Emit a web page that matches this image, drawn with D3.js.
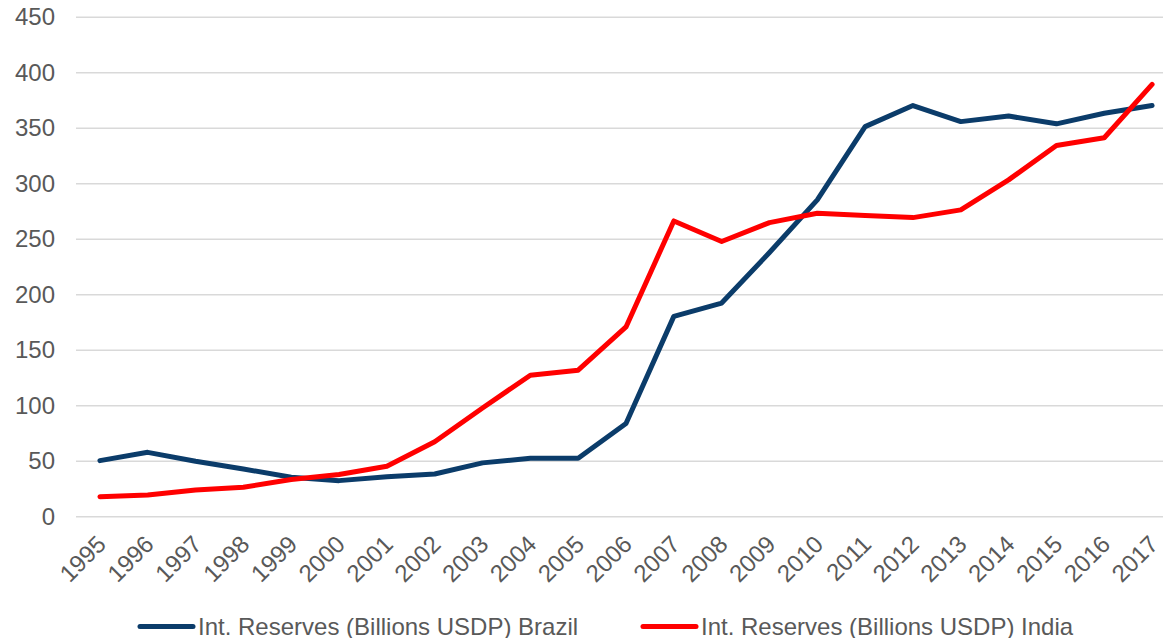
<!DOCTYPE html>
<html>
<head>
<meta charset="utf-8">
<title>Int. Reserves</title>
<script src="https://cdn.jsdelivr.net/npm/d3@7"></script>
<style>
  body { margin: 0; background: #fff; }
  svg { display: block; font-family: "Liberation Sans", Arial, sans-serif; }
</style>
</head>
<body>
<script>
// data
var years = ['1995','1996','1997','1998','1999','2000','2001','2002','2003','2004','2005','2006',
             '2007','2008','2009','2010','2011','2012','2013','2014','2015','2016','2017'];
var brazil = [50.5, 58, 50, 43, 35.5, 32.5, 36, 38.5, 48.5, 52.6, 52.6, 84,
              180.5, 192.5, 238, 285.5, 351.5, 370.5, 356, 361, 354, 363.5, 370.5];
var india = [18, 19.5, 24, 26.5, 33.5, 38, 45.5, 67.5, 98, 127.5, 132, 171,
             266.5, 248, 265, 273.5, 271.5, 269.5, 276.5, 303.5, 334.5, 341.5, 389.5];
var yTicks = [0, 50, 100, 150, 200, 250, 300, 350, 400, 450];
var seriesNames = ['Int. Reserves (Billions USDP) Brazil', 'Int. Reserves (Billions USDP) India'];
var colors = ['#0B3C6A', '#FF0000'];

var W = 1163, H = 638;
var plotLeft = 76, plotRight = 1176, plotTop = 17.3, plotBottom = 516.7;
var fontSize = '24px';

var svg = d3.select('body').append('svg')
    .attr('width', W).attr('height', H);

var x = d3.scalePoint().domain(years).range([plotLeft, plotRight]).padding(0.5);
var y = d3.scaleLinear().domain([0, 450]).range([plotBottom, plotTop]);

// grid lines
svg.append('g').selectAll('line')
    .data(yTicks).enter().append('line')
    .attr('x1', plotLeft).attr('x2', plotRight)
    .attr('y1', function(d) { return y(d); })
    .attr('y2', function(d) { return y(d); })
    .attr('stroke', '#D9D9D9').attr('stroke-width', 1.5);

// y axis labels
var yAxis = d3.axisLeft(y).tickValues(yTicks).tickSize(0).tickPadding(0);
var gy = svg.append('g').attr('transform', 'translate(55,0)').call(yAxis);
gy.select('.domain').remove();
gy.selectAll('text')
    .attr('font-size', fontSize).attr('fill', '#595959')
    .attr('font-family', '"Liberation Sans", Arial, sans-serif');

// x axis labels
var xAxis = d3.axisBottom(x).tickSize(0).tickPadding(0);
var gx = svg.append('g').attr('transform', 'translate(0,' + plotBottom + ')').call(xAxis);
gx.select('.domain').remove();
gx.selectAll('text')
    .attr('font-size', fontSize).attr('fill', '#595959')
    .attr('font-family', '"Liberation Sans", Arial, sans-serif')
    .attr('text-anchor', 'end')
    .attr('dy', 0)
    .attr('transform', 'translate(7,29) rotate(-45)');

// lines
var line = d3.line()
    .x(function(d, i) { return x(years[i]); })
    .y(function(d) { return y(d); });

[brazil, india].forEach(function(s, k) {
    svg.append('path')
        .datum(s)
        .attr('d', line)
        .attr('fill', 'none')
        .attr('stroke', colors[k])
        .attr('stroke-width', 5)
        .attr('stroke-linejoin', 'round')
        .attr('stroke-linecap', 'round');
});

// legend
var legendX = [140, 643];
var legend = svg.append('g');
seriesNames.forEach(function(name, k) {
    legend.append('line')
        .attr('x1', legendX[k]).attr('x2', legendX[k] + 53)
        .attr('y1', 626.5).attr('y2', 626.5)
        .attr('stroke', colors[k]).attr('stroke-width', 5)
        .attr('stroke-linecap', 'round');
    legend.append('text')
        .attr('x', legendX[k] + 58).attr('y', 634.5)
        .attr('font-size', fontSize).attr('fill', '#595959')
        .text(name);
});
</script>
</body>
</html>
